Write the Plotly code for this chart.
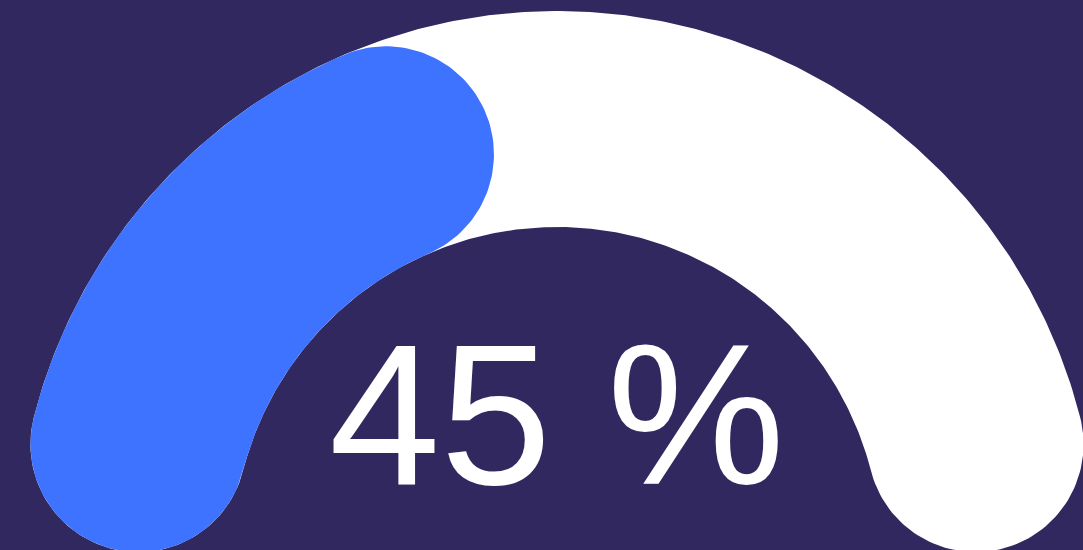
import numpy as np
import plotly.graph_objects as go

# ---- data ----
value = [45]
gauge_min = [0]
gauge_max = [100]
value_label = ["45 %"]

# ---- style / geometry ----
BG = "rgb(49,40,95)"
BLUE = "#3D73FF"
TRACK = "#FFFFFF"
W, H = 1083, 550
CX, CY = 557, -1          # gauge centre (y up)
R_MID = 432               # mid radius of band
HALF = 108                # half band thickness (= cap radius)


def band_path(frac_start, frac_end, n=240):
    """Polygon of a rounded band covering fraction range of a 180-degree gauge."""
    delta = HALF / R_MID
    th_s = np.pi * (1 - frac_start)
    th_e = np.pi * (1 - frac_end)
    a = th_s - delta   # cap centre angles
    b = th_e + delta
    xs, ys = [], []
    t = np.linspace(a, b, n)
    xs += list(CX + (R_MID + HALF) * np.cos(t)); ys += list(CY + (R_MID + HALF) * np.sin(t))
    pb = (CX + R_MID * np.cos(b), CY + R_MID * np.sin(b))
    p = np.linspace(b, b - np.pi, 80)
    xs += list(pb[0] + HALF * np.cos(p)); ys += list(pb[1] + HALF * np.sin(p))
    t = np.linspace(b, a, n)
    xs += list(CX + (R_MID - HALF) * np.cos(t)); ys += list(CY + (R_MID - HALF) * np.sin(t))
    pa = (CX + R_MID * np.cos(a), CY + R_MID * np.sin(a))
    p = np.linspace(a + np.pi, a, 80)
    xs += list(pa[0] + HALF * np.cos(p)); ys += list(pa[1] + HALF * np.sin(p))
    return xs, ys


span = gauge_max[0] - gauge_min[0]
frac = (value[0] - gauge_min[0]) / span

fig = go.Figure()
tx, ty = band_path(0.0, 1.0)
fig.add_trace(go.Scatter(x=tx, y=ty, fill="toself", fillcolor=TRACK, mode="lines",
                         line=dict(width=0, color=TRACK), hoverinfo="skip"))
bx, by = band_path(0.0, frac)
fig.add_trace(go.Scatter(x=bx, y=by, fill="toself", fillcolor=BLUE, mode="lines",
                         line=dict(width=0, color=BLUE), hoverinfo="skip"))

fig.add_annotation(x=CX, y=136, xref="x", yref="y", text=value_label[0], showarrow=False,
                   xanchor="center", yanchor="middle",
                   font=dict(family="Liberation Sans, Arial, sans-serif", size=200, color="white"))

fig.update_layout(
    width=W, height=H, margin=dict(l=0, r=0, t=0, b=0),
    paper_bgcolor=BG, plot_bgcolor=BG, showlegend=False,
    xaxis=dict(range=[0, W], visible=False, fixedrange=True),
    yaxis=dict(range=[0, H], visible=False, fixedrange=True),
)
fig.write_html("out.html")
